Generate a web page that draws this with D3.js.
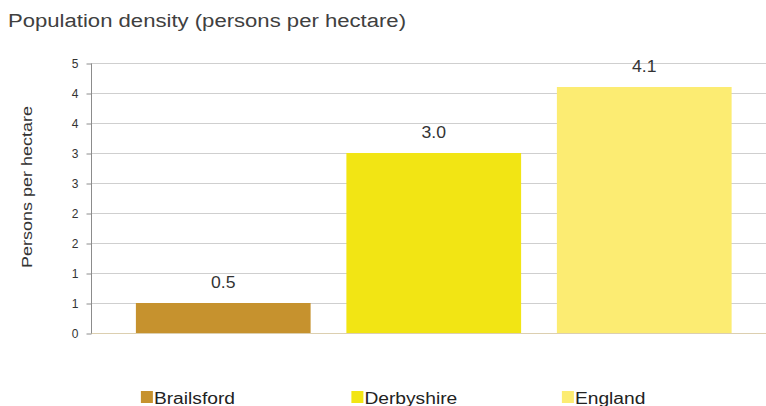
<!DOCTYPE html>
<html>
<head>
<meta charset="utf-8">
<script src="https://cdn.jsdelivr.net/npm/d3@7"></script>
<style>
  body { margin: 0; background: #fff; }
  text { font-family: "Liberation Sans", Arial, sans-serif; }
</style>
</head>
<body>
<div id="container"></div>
<script>
/* CONSTANTS AND GLOBALS */
const width = 766;
const height = 406;

// data
const areas = ["Brailsford", "Derbyshire", "England"];
const density = [0.5, 3.0, 4.1];
const barColors = ["#c6922e", "#f2e514", "#fcec72"];
const yTicks = [0, 0.5, 1, 1.5, 2, 2.5, 3, 3.5, 4, 4.5];

const svg = d3.select("#container")
  .append("svg")
  .attr("width", width)
  .attr("height", height);

/* SCALES */
const xScale = d3.scaleBand()
  .domain(areas)
  .range([118, 749.5])
  .paddingInner(0.17)
  .paddingOuter(0.085);

const yScale = d3.scaleLinear()
  .domain([0, 4.5])
  .range([333, 63]);

// the source image is a bit wider than tall, stretch text to suit
function stretch(sel, k) {
  sel.each(function() {
    const w = this.getComputedTextLength();
    d3.select(this)
      .attr("textLength", w * k)
      .attr("lengthAdjust", "spacingAndGlyphs");
  });
}

// title
svg.append("text")
  .attr("x", 8)
  .attr("y", 27)
  .attr("font-size", 18)
  .attr("fill", "#404040")
  .attr("textLength", 398)
  .attr("lengthAdjust", "spacingAndGlyphs")
  .text("Population density (persons per hectare)");

// gridlines
svg.selectAll("line.grid")
  .data(yTicks.slice(1))
  .join("line")
  .attr("class", "grid")
  .attr("x1", 91)
  .attr("x2", width)
  .attr("y1", d => yScale(d) + 0.5)
  .attr("y2", d => yScale(d) + 0.5)
  .attr("stroke", "#cfcfcf");

// baseline
svg.append("line")
  .attr("x1", 91).attr("x2", width)
  .attr("y1", yScale(0) + 0.5).attr("y2", yScale(0) + 0.5)
  .attr("stroke", "#dccfb0");

// y axis
const yAxis = d3.axisLeft(yScale)
  .tickValues(yTicks)
  .tickSize(5)
  .tickSizeOuter(0)
  .tickPadding(8)
  .tickFormat(d => d3.format(".0f")(Math.round(d)));

const yAxisGroup = svg.append("g")
  .attr("transform", "translate(91.5,0.5)")
  .call(yAxis);

yAxisGroup.select(".domain")
  .attr("stroke", "#8c8c8c")
  .attr("d", `M0,${yScale(4.5)}V${yScale(0)}`);
yAxisGroup.selectAll(".tick line").attr("stroke", "#8c8c8c");
yAxisGroup.selectAll(".tick text")
  .attr("font-size", 12)
  .attr("fill", "#333")
  .attr("font-family", "Liberation Sans, Arial, sans-serif");

// y axis title
svg.append("text")
  .attr("transform", "translate(32,187) rotate(-90)")
  .attr("text-anchor", "middle")
  .attr("font-size", 14)
  .attr("fill", "#333")
  .attr("textLength", 162)
  .attr("lengthAdjust", "spacingAndGlyphs")
  .text("Persons per hectare");

//bars
svg.selectAll("rect.bar")
  .data(areas)
  .join("rect")
  .attr("class", "bar")
  .attr("x", d => xScale(d))
  .attr("width", xScale.bandwidth())
  .attr("y", (d, i) => yScale(density[i]))
  .attr("height", (d, i) => yScale(0) - yScale(density[i]))
  .attr("fill", (d, i) => barColors[i]);

// value labels
svg.selectAll("text.val")
  .data(areas)
  .join("text")
  .attr("class", "val")
  .attr("x", d => xScale(d) + xScale.bandwidth() / 2)
  .attr("y", (d, i) => yScale(density[i]) - 15)
  .attr("text-anchor", "middle")
  .attr("font-size", 16)
  .attr("fill", "#333")
  .text((d, i) => density[i].toFixed(1))
  .call(stretch, 1.1);

// legend
const legend = svg.selectAll("g.legend")
  .data(areas)
  .join("g")
  .attr("class", "legend")
  .attr("transform", d => `translate(${xScale(d) + 5},391)`);

legend.append("rect")
  .attr("width", 12)
  .attr("height", 12)
  .attr("fill", (d, i) => barColors[i]);

legend.append("text")
  .attr("x", 13)
  .attr("y", 12.5)
  .attr("font-size", 16)
  .attr("fill", "#222")
  .text(d => d)
  .call(stretch, 1.2);
</script>
</body>
</html>
